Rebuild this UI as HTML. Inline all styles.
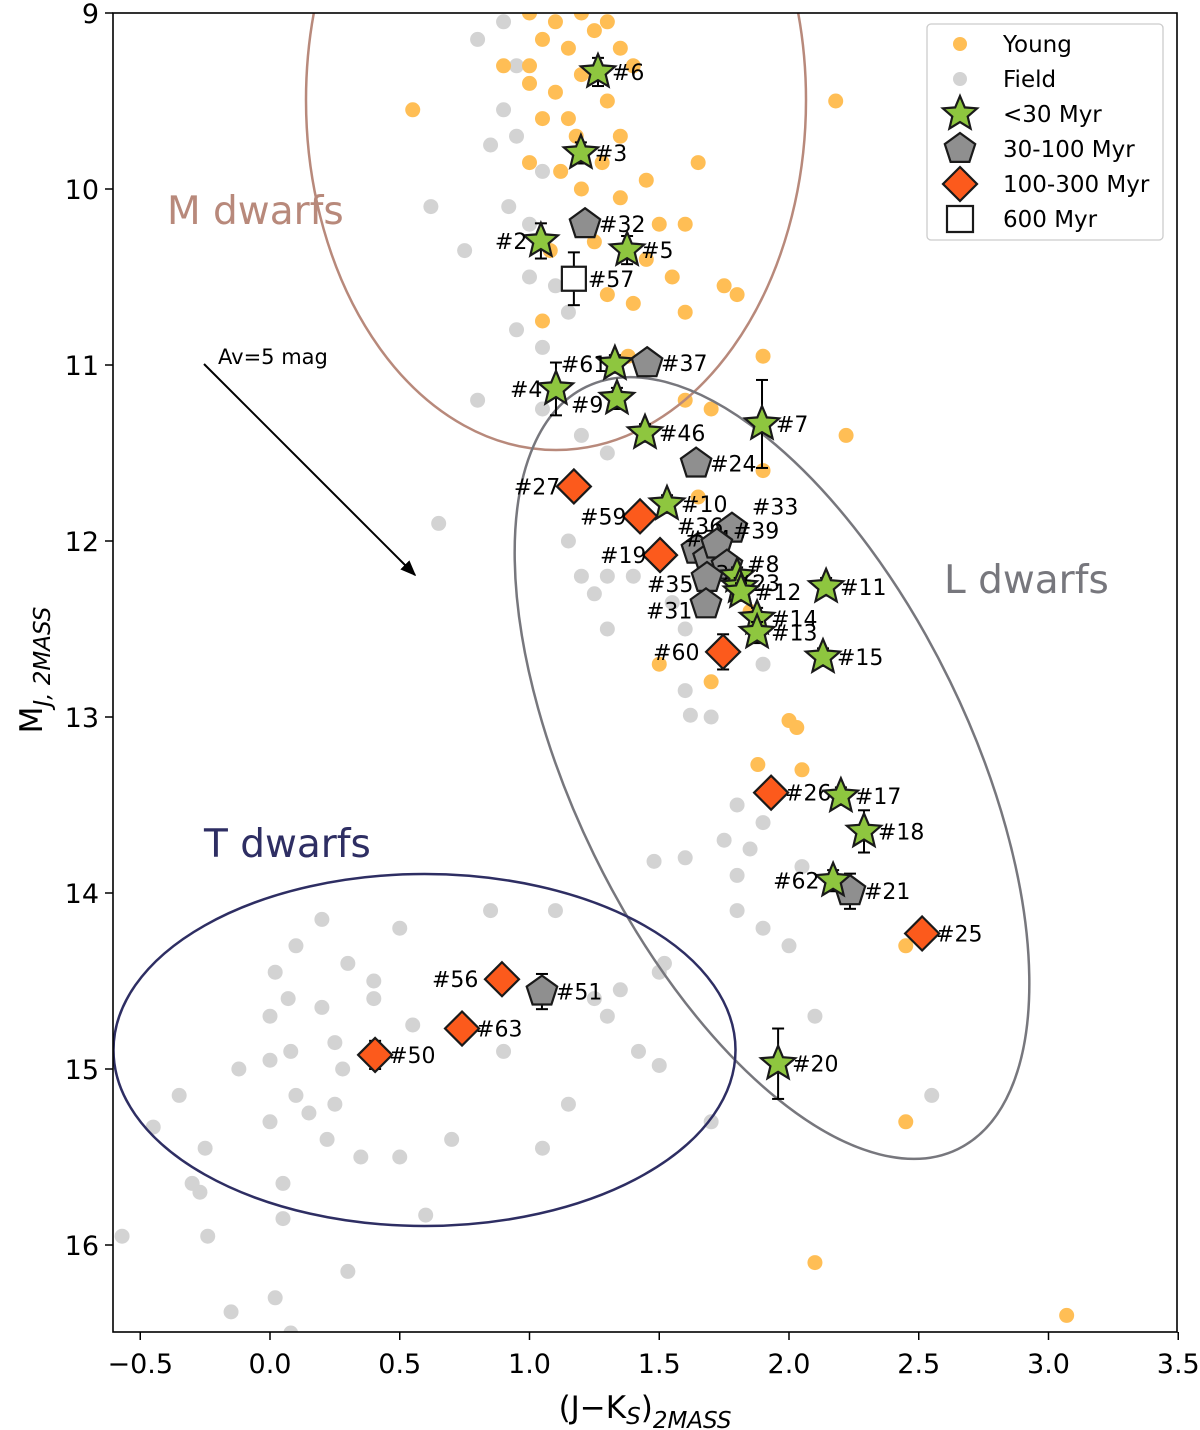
<!DOCTYPE html>
<html><head><meta charset="utf-8"><style>
html,body{margin:0;padding:0;background:#fff;}
svg{display:block;font-family:"DejaVu Sans","Liberation Sans",sans-serif;}
</style></head><body>
<svg id="chart" width="1200" height="1430" viewBox="0 0 1200 1430" xmlns="http://www.w3.org/2000/svg">
<defs><marker id="ah" viewBox="0 0 10 10" refX="9" refY="5" markerWidth="8" markerHeight="8" orient="auto"><path d="M0,1 L10,5 L0,9 Z" fill="#000"/></marker></defs>
<g id="bg"></g>
<g id="ell"></g>
<g id="marks"></g>
<g id="axes"></g>
</svg>
<script>
// ---- data ----
const youngX=[1.0,1.1,1.2,1.3,1.05,1.15,1.25,1.35,0.9,1.0,1.2,1.4,0.55,1.1,1.3,2.18,1.05,1.18,1.35,1.0,1.12,1.28,1.45,1.65,1.2,1.35,1.5,1.6,1.08,1.45,1.55,1.3,1.4,1.75,1.8,1.6,1.05,1.38,1.9,1.6,1.7,2.22,1.9,1.65,1.75,1.85,1.5,1.7,2.0,2.03,1.88,2.05,2.45,2.45,2.1,3.07,1.0,1.15,1.25];
const youngY=[9.0,9.05,9.0,9.05,9.15,9.2,9.1,9.2,9.3,9.3,9.35,9.3,9.55,9.45,9.5,9.5,9.6,9.7,9.7,9.85,9.9,9.85,9.95,9.85,10.0,10.05,10.2,10.2,10.35,10.4,10.5,10.6,10.65,10.55,10.6,10.7,10.75,10.95,10.95,11.2,11.25,11.4,11.6,11.75,12.15,12.4,12.7,12.8,13.02,13.06,13.27,13.3,14.3,15.3,16.1,16.4,9.4,9.6,10.3];
const fieldX=[0.9,0.8,0.95,0.9,0.85,0.95,1.05,0.62,0.92,1.0,0.75,1.0,1.1,1.15,0.95,1.05,0.8,1.05,1.2,1.3,0.65,1.15,1.2,1.3,1.25,1.4,1.55,1.3,1.6,1.9,1.6,1.62,1.7,1.8,1.9,1.75,1.85,1.8,1.6,1.48,1.8,1.9,2.05,2.0,1.5,1.52,1.35,1.25,1.3,1.42,2.1,1.1,0.85,0.5,0.4,0.3,0.2,0.1,0.02,0.07,0.2,0.25,0.0,0.0,0.08,-0.12,0.28,0.1,0.15,0.25,0.0,0.22,0.35,0.05,-0.25,-0.27,-0.3,-0.35,-0.45,-0.24,-0.57,0.05,0.6,0.3,-0.15,0.02,0.08,0.5,0.7,1.05,1.15,1.7,2.55,1.5,0.9,0.55,0.4];
const fieldY=[9.05,9.15,9.3,9.55,9.75,9.7,9.9,10.1,10.1,10.2,10.35,10.5,10.55,10.7,10.8,10.9,11.2,11.25,11.4,11.5,11.9,12.0,12.2,12.2,12.3,12.2,12.35,12.5,12.5,12.7,12.85,12.99,13.0,13.5,13.6,13.7,13.75,13.9,13.8,13.82,14.1,14.2,13.85,14.3,14.45,14.4,14.55,14.6,14.7,14.9,14.7,14.1,14.1,14.2,14.5,14.4,14.15,14.3,14.45,14.6,14.65,14.85,14.7,14.95,14.9,15.0,15.0,15.15,15.25,15.2,15.3,15.4,15.5,15.65,15.45,15.7,15.65,15.15,15.33,15.95,15.95,15.85,15.83,16.15,16.38,16.3,16.5,15.5,15.4,15.45,15.2,15.3,15.15,14.98,14.9,14.75,14.6];
const starLabels=["#6","#3","#2","#5","#61","#4","#9","#46","#7","#10","#8","#23","#12","#11","#14","#13","#15","#17","#18","#62","#20"];
const starX=[1.264,1.198,1.044,1.376,1.329,1.102,1.337,1.445,1.896,1.53,1.80,1.81,1.815,2.143,1.877,1.877,2.131,2.2,2.289,2.17,1.958];
const starY=[9.335,9.795,10.295,10.347,10.994,11.136,11.19,11.386,11.335,11.79,12.2,12.26,12.29,12.26,12.44,12.52,12.66,13.45,13.65,13.93,14.97];
const starErr=[0.08,0.06,0.1,0.08,0.05,0.15,0.06,0.05,0.25,0.05,0.05,0.05,0.05,0.05,0.06,0.06,0.05,0.05,0.12,0.06,0.2];
const pentLabels=["#32","#37","#24","#33","#36","#34","#39","#38","#35","#31","#21","#51"];
const pentX=[1.214,1.453,1.642,1.78,1.645,1.69,1.722,1.761,1.684,1.68,2.235,1.048];
const pentY=[10.2,10.99,11.56,11.93,12.05,12.1,12.02,12.14,12.21,12.36,13.99,14.56];
const pentErr=[0.05,0.05,0.05,0.05,0.05,0.05,0.05,0.05,0.05,0.05,0.1,0.1];
const diaLabels=["#27","#59","#19","#60","#26","#25","#56","#63","#50"];
const diaX=[1.171,1.426,1.503,1.746,1.931,2.513,0.894,0.74,0.405];
const diaY=[11.69,11.86,12.08,12.63,13.43,14.23,14.49,14.77,14.92];
const diaErr=[0.05,0.06,0.05,0.1,0.05,0.05,0.05,0.05,0.08];
const sqLabels=["#57"];
const sqX=[1.171];
const sqY=[10.51];
const sqErr=[0.15];
const xTicks=[-0.5,0.0,0.5,1.0,1.5,2.0,2.5,3.0,3.5];
const xTickLabels=["−0.5","0.0","0.5","1.0","1.5","2.0","2.5","3.0","3.5"];
const yTicks=[9,10,11,12,13,14,15,16];
const yTickLabels=["9","10","11","12","13","14","15","16"];
const labelDX={"#2":-46,"#4":-46,"#27":-60,"#59":-60,"#19":-60,"#60":-70,"#62":-60,"#56":-70,"#61":-54,"#9":-46,"#35":-60,"#31":-60,"#34":-24,"#36":-20,"#33":20,"#39":16,"#38":-30,"#8":10,"#23":-6};
const labelDY={"#34":-20,"#36":-24,"#33":-22,"#39":-14,"#8":-12,"#23":-4,"#38":8,"#35":6,"#31":6,"#9":6};
// ---- axes ----
const L=113,R=1177,T=13,B=1332;
const xs=v=>270+v*259.5;
const ys=v=>13+(v-9)*176;
const NS="http://www.w3.org/2000/svg";
function mk(tag,attrs,parent){const e=document.createElementNS(NS,tag);for(const k in attrs)e.setAttribute(k,attrs[k]);parent.appendChild(e);return e;}
const bg=document.getElementById('bg'),ell=document.getElementById('ell'),marks=document.getElementById('marks'),axes=document.getElementById('axes');
const clip=mk('clipPath',{id:'pc'},document.querySelector('defs'));mk('rect',{x:L,y:T,width:R-L,height:B-T},clip);
bg.setAttribute('clip-path','url(#pc)');ell.setAttribute('clip-path','url(#pc)');
for(let i=0;i<fieldX.length;i++){const c=mk('circle',{cx:xs(fieldX[i]),cy:ys(fieldY[i]),r:7.5,fill:'#d3d3d3'},bg);

}
for(let i=0;i<youngX.length;i++){const c=mk('circle',{cx:xs(youngX[i]),cy:ys(youngY[i]),r:7.5,fill:'#ffbe55'},bg);

}
let e1=mk('ellipse',{cx:556,cy:100,rx:250,ry:350,fill:'none',stroke:'#b8897b','stroke-width':2.5},ell);


let e2=mk('ellipse',{cx:772,cy:768,rx:198,ry:424,fill:'none',stroke:'#77777d','stroke-width':2.5,transform:'rotate(-26 772 768)'},ell);


let e3=mk('ellipse',{cx:424.5,cy:1050,rx:311,ry:176,fill:'none',stroke:'#2e2e63','stroke-width':2.5},ell);


function txt(s,x,y,size,fill,parent,name){const t=mk('text',{x:x,y:y,'font-size':size,fill:fill},parent);t.textContent=s;

return t;}
txt('M dwarfs',167,224,39,'#b8897b',ell,'m-dwarfs-label');
txt('L dwarfs',944,593,39,'#77777d',ell,'l-dwarfs-label');
txt('T dwarfs',204,857,39,'#2e2e63',ell,'t-dwarfs-label');
let ar=mk('line',{x1:204,y1:364,x2:415,y2:575,stroke:'#000','stroke-width':2,'marker-end':'url(#ah)'},marks);


txt('Av=5 mag',218,364,21,'#000',marks,'extinction-label');
function starPath(cx,cy,r){let d='';for(let k=0;k<10;k++){const rr=k%2?r*0.45:r;const a=-Math.PI/2+k*Math.PI/5;d+=(k?'L':'M')+(cx+rr*Math.cos(a)).toFixed(1)+','+(cy+rr*Math.sin(a)).toFixed(1);}return d+'Z';}
function pentPath(cx,cy,r){let d='';for(let k=0;k<5;k++){const a=-Math.PI/2+k*2*Math.PI/5;d+=(k?'L':'M')+(cx+r*Math.cos(a)).toFixed(1)+','+(cy+r*Math.sin(a)).toFixed(1);}return d+'Z';}
function diaPath(cx,cy,r){return `M${cx},${cy-r}L${cx+r},${cy}L${cx},${cy+r}L${cx-r},${cy}Z`;}
function sqPath(cx,cy,r){return `M${cx-r},${cy-r}H${cx+r}V${cy+r}H${cx-r}Z`;}
function drawSet(X,Y,E,LB,fn,r,fill,name){
 for(let i=0;i<X.length;i++){const cx=xs(X[i]),cy=ys(Y[i]);
  const g=mk('g',{},marks);
  
  
  const y1=ys(Y[i]-E[i]),y2=ys(Y[i]+E[i]);
  mk('line',{x1:cx,y1:y1,x2:cx,y2:y2,stroke:'#000','stroke-width':2},g);
  mk('line',{x1:cx-6,y1:y1,x2:cx+6,y2:y1,stroke:'#000','stroke-width':2},g);
  mk('line',{x1:cx-6,y1:y2,x2:cx+6,y2:y2,stroke:'#000','stroke-width':2},g);
  mk('path',{d:fn(cx,cy,r),fill:fill,stroke:'#1a1a1a','stroke-width':2.2,'stroke-linejoin':'miter'},g);
  const dx=labelDX[LB[i]]!==undefined?labelDX[LB[i]]:14, dy=labelDY[LB[i]]||0;
  txt(LB[i],cx+dx,cy+8+dy,22,'#000',g,'point-label');
 }}
drawSet(pentX,pentY,pentErr,pentLabels,pentPath,16,'#8f8f8f','pentagon');
drawSet(diaX,diaY,diaErr,diaLabels,diaPath,17,'#fc5a1c','diamond');
drawSet(sqX,sqY,sqErr,sqLabels,sqPath,12,'#ffffff','square');
drawSet(starX,starY,starErr,starLabels,starPath,18,'#8ec63f','star');
let fr=mk('rect',{x:L,y:T,width:R-L,height:B-T,fill:'none',stroke:'#000','stroke-width':1.6},axes);


xTicks.forEach((v,i)=>{const x=xs(v);mk('line',{x1:x,y1:B,x2:x,y2:B+8,stroke:'#000','stroke-width':1.5},axes);
 const t=txt(xTickLabels[i],x,B+41,27,'#000',axes,'x-tick-label');t.setAttribute('text-anchor','middle');});
yTicks.forEach((v,i)=>{const y=ys(v);mk('line',{x1:L-8,y1:y,x2:L,y2:y,stroke:'#000','stroke-width':1.5},axes);
 const t=txt(yTickLabels[i],L-14,y+10,27,'#000',axes,'y-tick-label');t.setAttribute('text-anchor','end');});
const xl=mk('text',{x:645,y:1418,'font-size':31,'text-anchor':'middle'},axes);


xl.innerHTML='(J−K<tspan font-size="23" font-style="italic" dy="6">S</tspan><tspan dy="-6">)</tspan><tspan font-size="23" font-style="italic" dy="10">2MASS</tspan>';
const yl=mk('text',{x:0,y:0,'font-size':31,'text-anchor':'middle',transform:'translate(42 670) rotate(-90)'},axes);


yl.innerHTML='M<tspan font-size="23" font-style="italic" dy="8">J, 2MASS</tspan>';
const lg=mk('g',{},axes);


mk('rect',{x:927,y:24,width:236,height:216,rx:4,fill:'#fff','fill-opacity':0.85,stroke:'#ccc','stroke-width':1.3},lg);
const legNames=['Young','Field','<30 Myr','30-100 Myr','100-300 Myr','600 Myr'];
legNames.forEach((n,i)=>{const y=44+i*35,x=960;
 if(i===0)mk('circle',{cx:x,cy:y,r:7,fill:'#ffbe55'},lg);
 if(i===1)mk('circle',{cx:x,cy:y,r:7,fill:'#d3d3d3'},lg);
 if(i===2)mk('path',{d:starPath(x,y,18),fill:'#8ec63f',stroke:'#1a1a1a','stroke-width':2.2},lg);
 if(i===3)mk('path',{d:pentPath(x,y,16),fill:'#8f8f8f',stroke:'#1a1a1a','stroke-width':2.2},lg);
 if(i===4)mk('path',{d:diaPath(x,y,17),fill:'#fc5a1c',stroke:'#1a1a1a','stroke-width':2.2},lg);
 if(i===5)mk('path',{d:sqPath(x,y,13),fill:'#fff',stroke:'#1a1a1a','stroke-width':2.2},lg);
 txt(n,1003,y+8,23,'#000',lg,'legend-entry');});
</script>
</body></html>
